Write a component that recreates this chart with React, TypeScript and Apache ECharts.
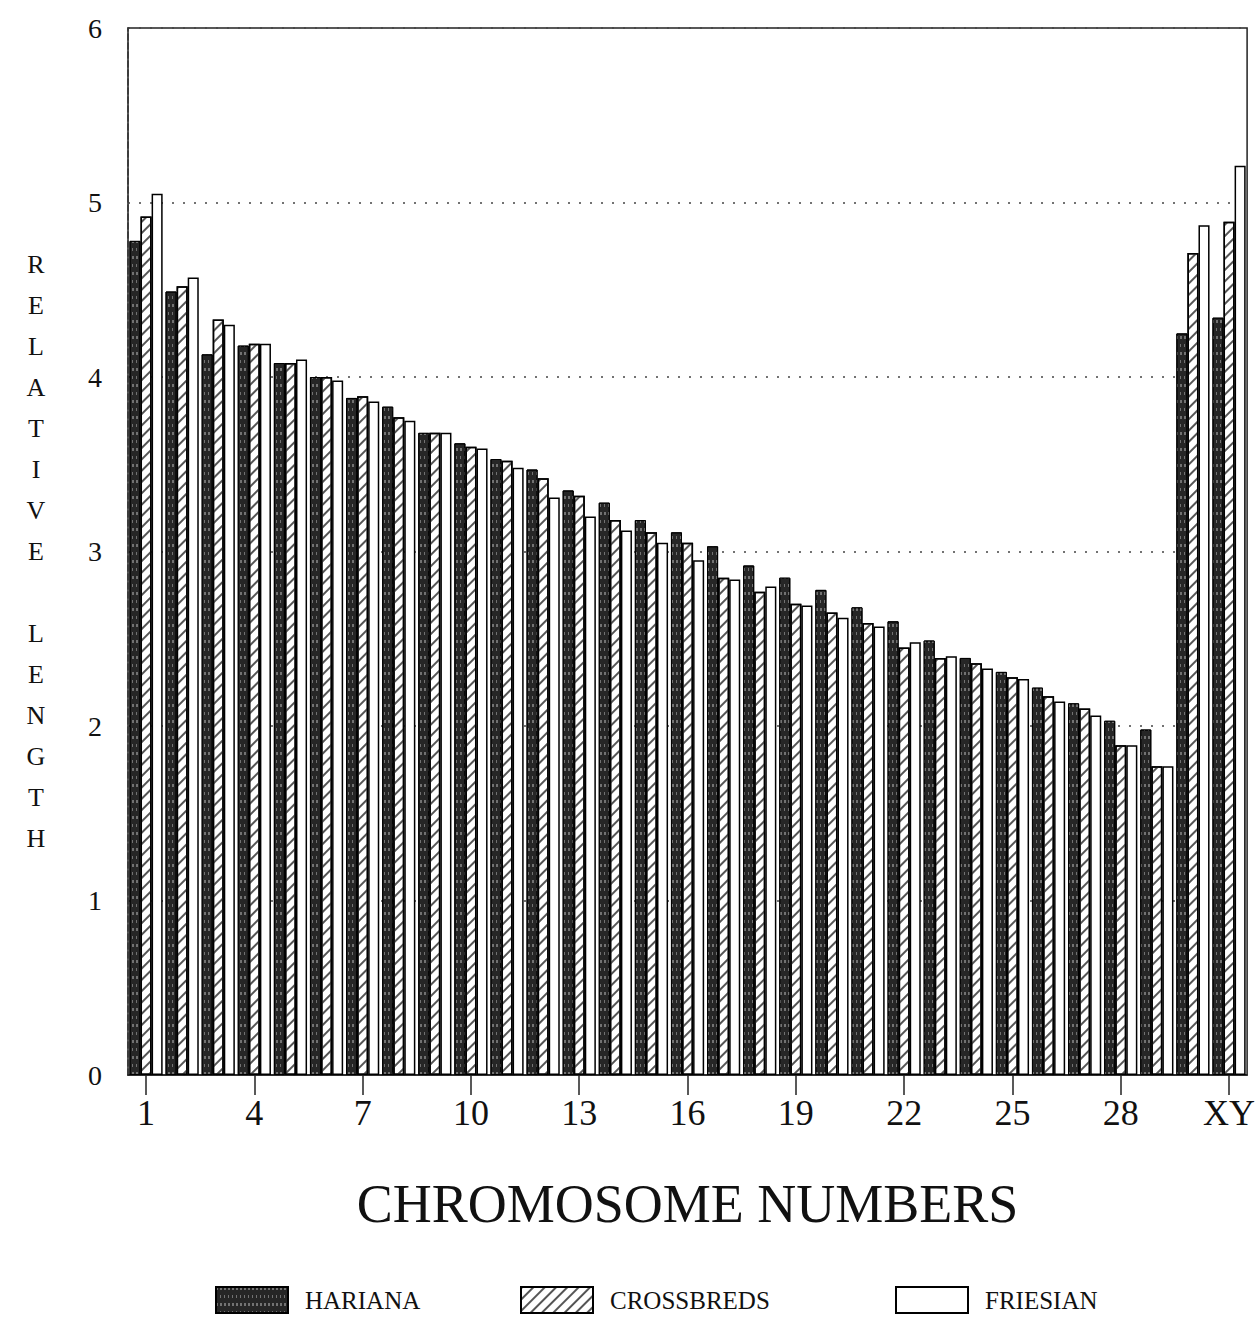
import React, { useEffect, useRef } from "react";
import * as echarts from "echarts";

const categories = [
  "1","2","3","4","5","6","7","8","9","10",
  "11","12","13","14","15","16","17","18","19","20",
  "21","22","23","24","25","26","27","28","29","X","Y",
];
const xTickLabels = ["1","4","7","10","13","16","19","22","25","28","XY"];
const yTickLabels = ["0","1","2","3","4","5","6"];

const hariana = [
  4.78, 4.49, 4.13, 4.18, 4.08, 4.0, 3.88, 3.83, 3.68, 3.62,
  3.53, 3.47, 3.35, 3.28, 3.18, 3.11, 3.03, 2.92, 2.85, 2.78,
  2.68, 2.6, 2.49, 2.39, 2.31, 2.22, 2.13, 2.03, 1.98, 4.25, 4.34,
];
const crossbreds = [
  4.92, 4.52, 4.33, 4.19, 4.08, 4.0, 3.89, 3.77, 3.68, 3.6,
  3.52, 3.42, 3.32, 3.18, 3.11, 3.05, 2.85, 2.77, 2.7, 2.65,
  2.59, 2.45, 2.39, 2.36, 2.28, 2.17, 2.1, 1.89, 1.77, 4.71, 4.89,
];
const friesian = [
  5.05, 4.57, 4.3, 4.19, 4.1, 3.98, 3.86, 3.75, 3.68, 3.59,
  3.48, 3.31, 3.2, 3.12, 3.05, 2.95, 2.84, 2.8, 2.69, 2.62,
  2.57, 2.48, 2.4, 2.33, 2.27, 2.14, 2.06, 1.89, 1.77, 4.87, 5.21,
];
const seriesNames = ["HARIANA", "CROSSBREDS", "FRIESIAN"];
const yAxisTitle = "RELATIVE LENGTH";
const xAxisTitle = "CHROMOSOME NUMBERS";

const FONT = "'Liberation Serif', 'DejaVu Serif', serif";

export default function App() {
  const ref = useRef<HTMLDivElement>(null);
  useEffect(() => {
    document.body.style.margin = "0";
    const chart = echarts.init(ref.current!, undefined, { renderer: "svg" });
    const stacked = yAxisTitle
      .split("")
      .map((c) => (c === " " ? "" : c))
      .join("\n");
    const legendText = { fontFamily: FONT, fontSize: 25, color: "#111", padding: [0, 0, 0, 12] };
    const legendBase = {
      top: 1281,
      itemWidth: 72,
      itemHeight: 26,
      icon: "rect",
      textStyle: legendText,
      selectedMode: false,
    };
    chart.setOption({
      animation: false,
      backgroundColor: "#ffffff",
      grid: {
        left: 128,
        right: 8,
        top: 28,
        bottom: 242,
        show: true,
        borderColor: "#222",
        borderWidth: 1.5,
      },
      xAxis: {
        type: "category",
        data: categories,
        name: xAxisTitle,
        nameLocation: "middle",
        nameGap: 102,
        nameTextStyle: { fontFamily: FONT, fontSize: 54, color: "#111" },
        axisLine: { show: true, lineStyle: { color: "#222", width: 1.5 } },
        axisTick: { show: true, interval: 2, alignWithLabel: true, length: 20, lineStyle: { color: "#222", width: 1.5 } },
        axisLabel: {
          interval: 2,
          margin: 20,
          fontFamily: FONT,
          fontSize: 36,
          color: "#111",
          formatter: (_v: string, i: number) => xTickLabels[Math.floor(i / 3)] ?? "",
        },
      },
      yAxis: {
        type: "value",
        min: 0,
        max: 6,
        interval: 1,
        name: stacked,
        nameLocation: "middle",
        nameRotate: 0,
        nameGap: 92,
        nameTextStyle: { fontFamily: FONT, fontSize: 26, color: "#111", lineHeight: 41, align: "center" },
        axisLine: { show: true, lineStyle: { color: "#333", width: 1.5, type: "dashed" } },
        axisTick: { show: false },
        axisLabel: {
          margin: 26,
          fontFamily: FONT,
          fontSize: 28,
          color: "#111",
          formatter: (v: number) => yTickLabels[v] ?? "",
        },
        splitLine: { show: true, lineStyle: { color: "#444", width: 1.5, type: [2, 9] } },
      },
      legend: [
        { ...legendBase, data: [seriesNames[0]], left: 210 },
        { ...legendBase, data: [seriesNames[1]], left: 515 },
        { ...legendBase, data: [seriesNames[2]], left: 890 },
      ],
      series: [
        {
          name: seriesNames[0],
          type: "bar",
          data: hariana,
          barGap: "0%",
          barCategoryGap: "8%",
          itemStyle: {
            color: "#262626",
            borderColor: "#000",
            borderWidth: 1,
            decal: {
              symbol: "rect",
              symbolSize: 1,
              color: "rgba(255,255,255,0.35)",
              dashArrayX: [[1, 3], [2, 2]],
              dashArrayY: [3, 5],
              rotation: 0,
            },
          },
        },
        {
          name: seriesNames[1],
          type: "bar",
          data: crossbreds,
          itemStyle: {
            color: "#ffffff",
            borderColor: "#000",
            borderWidth: 1.5,
            decal: {
              symbol: "rect",
              symbolSize: 1,
              color: "#555",
              dashArrayX: [1, 0],
              dashArrayY: [2, 6],
              rotation: -Math.PI / 4,
            },
          },
        },
        {
          name: seriesNames[2],
          type: "bar",
          data: friesian,
          itemStyle: { color: "#ffffff", borderColor: "#000", borderWidth: 1.5 },
        },
      ],
    });
    return () => chart.dispose();
  }, []);
  return <div ref={ref} style={{ width: 1258, height: 1317 }} />;
}
